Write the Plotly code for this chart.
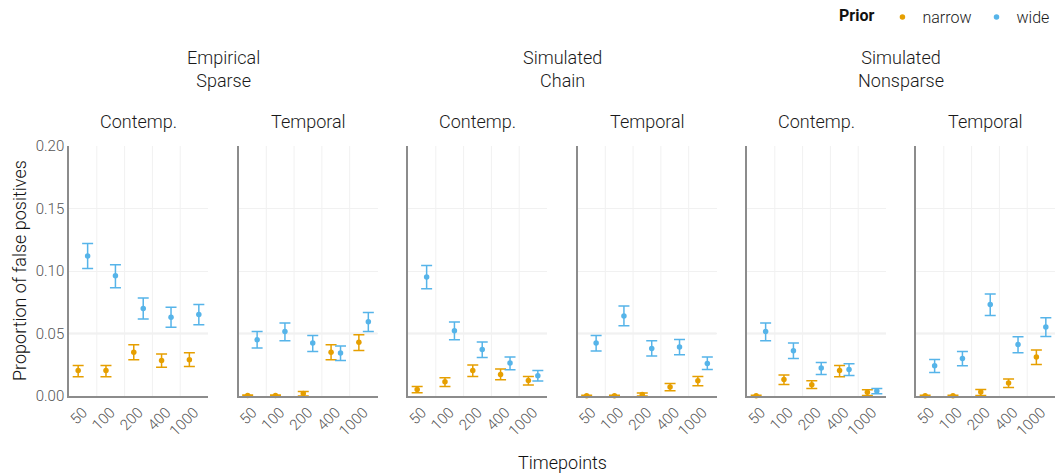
import plotly.graph_objects as go
import numpy as np

TIMEPOINTS = ["50", "100", "200", "400", "1000"]
DATASETS = ["Empirical<br>Sparse", "Simulated<br>Chain", "Simulated<br>Nonsparse"]
NETWORKS = ["Contemp.", "Temporal"]
PRIORS = ["narrow", "wide"]

# panel order: ES-Contemp, ES-Temporal, SC-Contemp, SC-Temporal, SN-Contemp, SN-Temporal
NARROW_MEAN = [
    [0.0205, 0.0205, 0.035, 0.0285, 0.029],
    [0.0005, 0.0005, 0.002, 0.035, 0.043],
    [0.0053, 0.0115, 0.0205, 0.0173, 0.0125],
    [0.0003, 0.0003, 0.0013, 0.0072, 0.0123],
    [0.0003, 0.0133, 0.0091, 0.0205, 0.003],
    [0.0003, 0.0003, 0.0032, 0.0104, 0.0312],
]
NARROW_LO = [
    [0.0155, 0.0155, 0.029, 0.023, 0.0237],
    [0.0, 0.0, 0.0, 0.029, 0.0365],
    [0.0027, 0.0077, 0.0157, 0.0131, 0.0088],
    [0.0, 0.0, 0.0, 0.0043, 0.0083],
    [0.0, 0.0093, 0.0061, 0.0155, 0.0005],
    [0.0, 0.0, 0.0005, 0.0069, 0.0253],
]
NARROW_HI = [
    [0.0245, 0.0245, 0.041, 0.0336, 0.0347],
    [0.0008, 0.0008, 0.0037, 0.041, 0.049],
    [0.0077, 0.0147, 0.0248, 0.0216, 0.0157],
    [0.0006, 0.0006, 0.0024, 0.0101, 0.0157],
    [0.0006, 0.0168, 0.0123, 0.0245, 0.005],
    [0.0006, 0.0006, 0.0053, 0.0136, 0.0368],
]
WIDE_MEAN = [
    [0.112, 0.0963, 0.070, 0.063, 0.0653],
    [0.045, 0.0517, 0.0424, 0.0344, 0.0595],
    [0.0952, 0.0523, 0.0373, 0.0264, 0.0163],
    [0.0424, 0.064, 0.0381, 0.0392, 0.0261],
    [0.0517, 0.0363, 0.0224, 0.0213, 0.004],
    [0.0243, 0.0301, 0.0733, 0.0413, 0.0552],
]
WIDE_LO = [
    [0.102, 0.0867, 0.0616, 0.055, 0.057],
    [0.0384, 0.0443, 0.0357, 0.0285, 0.0517],
    [0.0859, 0.0451, 0.0309, 0.0211, 0.012],
    [0.036, 0.0563, 0.032, 0.033, 0.0213],
    [0.0443, 0.0301, 0.0173, 0.0165, 0.0019],
    [0.0189, 0.0243, 0.0645, 0.0347, 0.0477],
]
WIDE_HI = [
    [0.122, 0.105, 0.0784, 0.071, 0.0733],
    [0.0517, 0.0584, 0.0485, 0.040, 0.0669],
    [0.1045, 0.0592, 0.0432, 0.0312, 0.0205],
    [0.0485, 0.072, 0.0443, 0.0453, 0.0312],
    [0.0584, 0.0424, 0.0269, 0.0259, 0.0061],
    [0.0293, 0.0357, 0.0816, 0.0475, 0.0627],
]
Y_TICKS = [0.0, 0.05, 0.10, 0.15, 0.20]
Y_TICK_TEXT = ["0.00", "0.05", "0.10", "0.15", "0.20"]
REF_LINE = 0.05

COLORS = {"narrow": "#E69F00", "wide": "#56B4E9"}
FONT = "Roboto, sans-serif"

W, H = 1055, 475
PANEL_LEFT = [69, 238.5, 408, 577.5, 747, 916]
PANEL_W = 139
Y_TOP, Y_BOT = 146, 396
DODGE = 0.17

fig = go.Figure()
xpos = np.arange(1, len(TIMEPOINTS) + 1)
series = {"narrow": (NARROW_MEAN, NARROW_LO, NARROW_HI), "wide": (WIDE_MEAN, WIDE_LO, WIDE_HI)}


def fnt(size, color="#1a1a1a", weight=300):
    return dict(size=size, color=color, family=FONT, weight=weight)


layout = {}
shapes = []
annotations = []
for p in range(6):
    sfx = "" if p == 0 else str(p + 1)
    xa, ya = "x" + sfx, "y" + sfx
    x0 = PANEL_LEFT[p] / W
    x1 = (PANEL_LEFT[p] + PANEL_W) / W
    layout["xaxis" + sfx] = dict(
        domain=[x0, x1], range=[0.5, 5.5], tickvals=list(xpos), ticktext=TIMEPOINTS,
        tickangle=-45, showgrid=False, zeroline=False, showline=True, linecolor="#8c8c8c",
        linewidth=1.5, ticks="", tickfont=fnt(15, "#555555"),
        anchor=ya, fixedrange=True, automargin=False,
    )
    layout["yaxis" + sfx] = dict(
        domain=[(H - Y_BOT) / H, (H - Y_TOP) / H], range=[0, 0.2], tickvals=Y_TICKS,
        ticktext=Y_TICK_TEXT, showticklabels=(p == 0), showgrid=True, gridcolor="#f1f1f1",
        gridwidth=1, zeroline=False, showline=True, linecolor="#8c8c8c", linewidth=1.5,
        ticks="", tickfont=fnt(15, "#555555"), anchor=xa,
        fixedrange=True, automargin=False,
    )
    # vertical grid lines between categories
    for g in xpos[:-1] + 0.5:
        shapes.append(dict(type="line", xref=xa, yref=ya, x0=g, x1=g, y0=0, y1=0.2,
                           line=dict(color="#f1f1f1", width=1), layer="below"))
    shapes.append(dict(type="line", xref=xa + " domain", yref=ya, x0=0, x1=1, y0=REF_LINE,
                       y1=REF_LINE, line=dict(color="#dadada", width=1.5), layer="below"))
    for prior, off in (("narrow", -DODGE), ("wide", DODGE)):
        m, lo, hi = series[prior]
        mean = np.array(m[p]); low = np.array(lo[p]); high = np.array(hi[p])
        fig.add_trace(go.Scatter(
            x=xpos + off, y=mean, mode="markers", xaxis=xa, yaxis=ya, name=prior,
            legendgroup=prior, showlegend=(p == 0),
            marker=dict(color=COLORS[prior], size=5.5),
            error_y=dict(type="data", symmetric=False, array=high - mean,
                         arrayminus=mean - low, color=COLORS[prior], thickness=1.5, width=5.5),
            cliponaxis=False,
        ))
    annotations.append(dict(text=NETWORKS[p % 2], x=(PANEL_LEFT[p] + PANEL_W / 2) / W,
                            y=(H - 122) / H, xref="paper", yref="paper", showarrow=False,
                            font=fnt(18), xanchor="center", yanchor="middle"))

for d in range(3):
    cx = (PANEL_LEFT[2 * d] + PANEL_LEFT[2 * d + 1] + PANEL_W) / 2 / W
    annotations.append(dict(text=DATASETS[d], x=cx, y=(H - 69) / H, xref="paper", yref="paper",
                            showarrow=False, font=fnt(18),
                            xanchor="center", yanchor="middle"))

annotations.append(dict(text="Timepoints", x=(PANEL_LEFT[0] + PANEL_LEFT[5] + PANEL_W) / 2 / W,
                        y=(H - 462) / H, xref="paper", yref="paper", showarrow=False,
                        font=fnt(18, "#111"), xanchor="center", yanchor="middle"))
annotations.append(dict(text="Proportion of false positives", x=19 / W,
                        y=(H - (Y_TOP + Y_BOT) / 2) / H, xref="paper", yref="paper",
                        showarrow=False, textangle=-90, font=fnt(18, "#111"),
                        xanchor="center", yanchor="middle"))

fig.update_layout(
    **layout,
    width=W, height=H,
    margin=dict(l=0, r=0, t=0, b=0, autoexpand=False),
    paper_bgcolor="white", plot_bgcolor="white",
    font=dict(family=FONT, color="#1a1a1a"),
    shapes=shapes, annotations=annotations,
    showlegend=True,
    legend=dict(orientation="h", xref="container", yref="container", x=1.0, xanchor="right",
                y=1.0, yanchor="top",
                title=dict(text="<b>Prior</b>", font=dict(size=16, color="#111", family=FONT)),
                font=fnt(16), itemwidth=30, bgcolor="rgba(0,0,0,0)"),
)

fig.write_html("out.html", config={"displayModeBar": False},
               post_script="document.body.style.margin='0';")
